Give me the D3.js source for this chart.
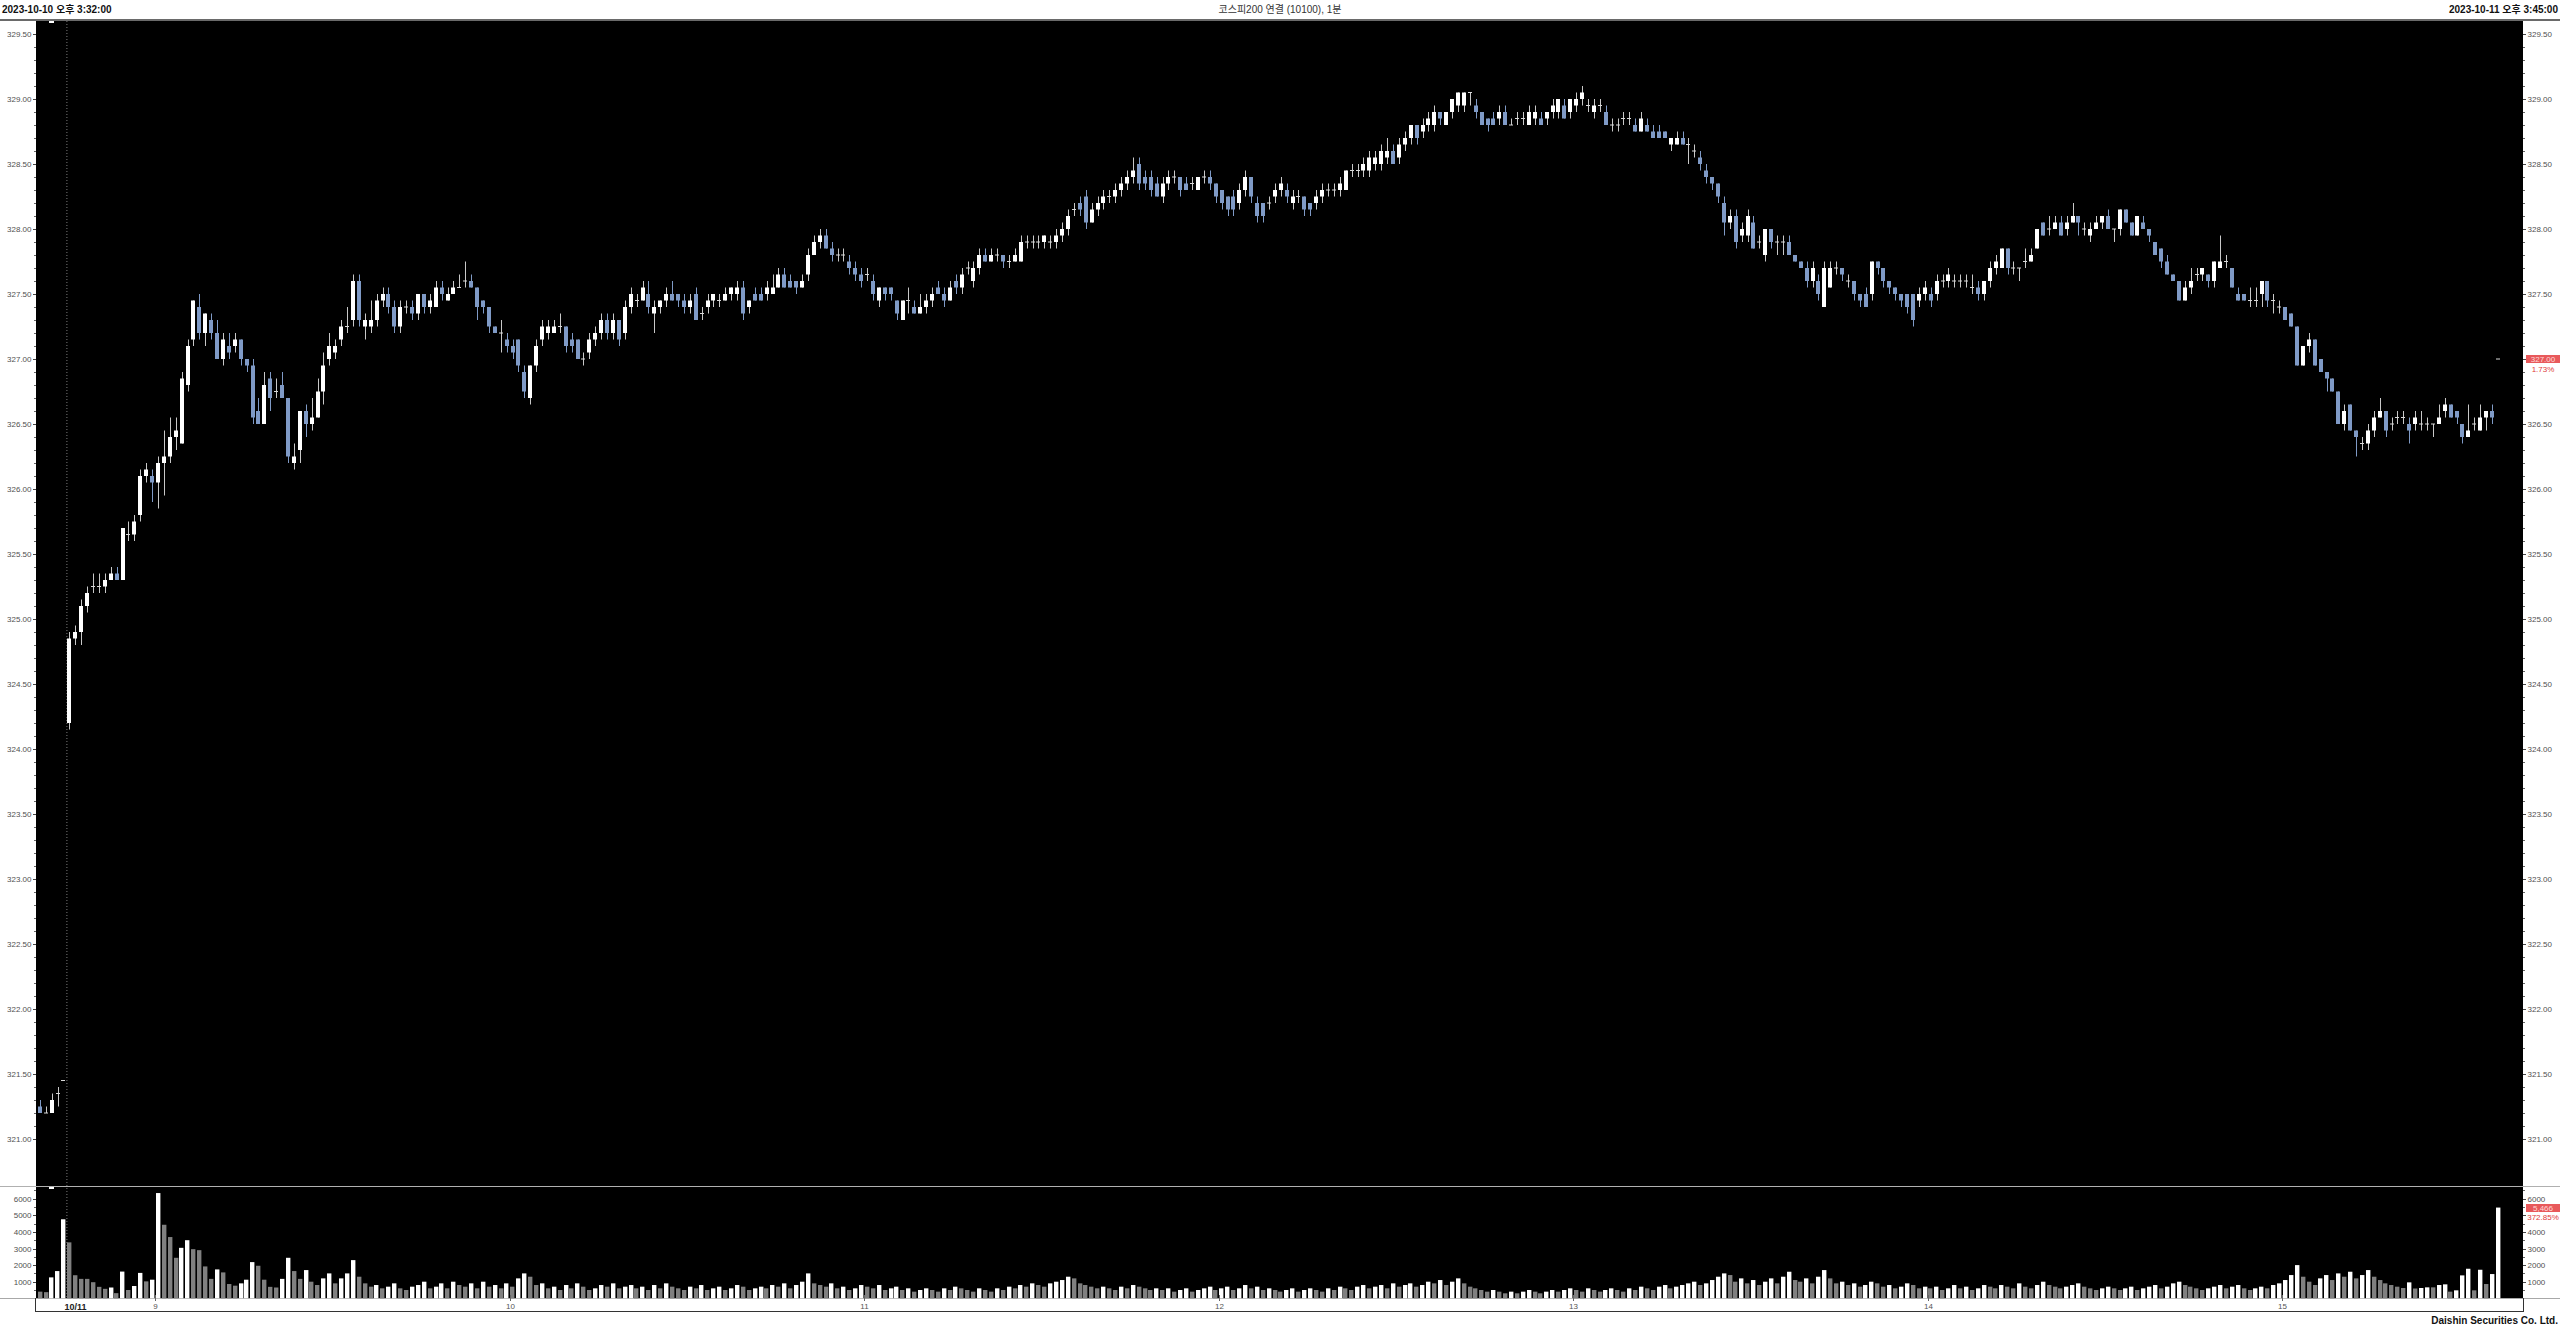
<!DOCTYPE html>
<html><head><meta charset="utf-8">
<script src="https://cdn.jsdelivr.net/npm/d3@7"></script>
<style>body{margin:0;background:#fff;}svg{display:block;}</style>
</head><body>
<svg id="c" width="2560" height="1328"></svg>
<script>
// ---------- DATA ----------
const day1Times = ["15:32","15:33","15:34","15:35","15:45"];
const hourTickIndex = [20, 80, 140, 200, 260, 320, 380];
const hourTickLabels = ["9","10","11","12","13","14","15"];
const dateBreakIndex = 5;
const dateBreakLabel = "10/11";
const priceTickLabels = ["321.00","321.50","322.00","322.50","323.00","323.50","324.00","324.50","325.00","325.50","326.00","326.50","327.00","327.50","328.00","328.50","329.00","329.50"];
const volumeTickLabels = ["1000","2000","3000","4000","5000","6000"];

const opens = [
321.25,321.20,321.20,321.35,321.45,324.20,324.85,324.90,325.10,325.25,
325.25,325.25,325.30,325.35,325.30,325.65,325.65,325.80,326.10,326.10,
326.05,326.20,326.25,326.40,326.35,326.80,327.15,327.40,327.20,327.30,
327.20,327.00,327.10,327.10,327.15,327.00,326.95,326.60,326.50,326.85,
326.75,326.80,326.70,326.20,326.30,326.60,326.50,326.55,326.75,327.00,
327.05,327.15,327.25,327.30,327.60,327.25,327.25,327.30,327.45,327.50,
327.40,327.25,327.40,327.40,327.35,327.50,327.40,327.40,327.55,327.45,
327.50,327.55,327.60,327.60,327.55,327.45,327.40,327.25,327.20,327.15,
327.10,327.15,326.90,326.70,326.95,327.15,327.20,327.20,327.25,327.25,
327.15,327.15,327.00,327.05,327.15,327.20,327.30,327.20,327.30,327.20,
327.40,327.45,327.45,327.50,327.35,327.40,327.45,327.50,327.50,327.45,
327.40,327.50,327.35,327.40,327.45,327.45,327.45,327.50,327.50,327.55,
327.40,327.50,327.50,327.50,327.50,327.55,327.65,327.60,327.60,327.55,
327.65,327.80,327.90,327.95,327.85,327.80,327.80,327.75,327.70,327.65,
327.65,327.60,327.45,327.55,327.55,327.45,327.30,327.45,327.40,327.35,
327.40,327.45,327.55,327.50,327.45,327.60,327.55,327.70,327.60,327.70,
327.80,327.75,327.80,327.80,327.75,327.75,327.75,327.90,327.90,327.90,
327.90,327.90,327.90,327.95,328.00,328.15,328.20,328.25,328.05,328.15,
328.20,328.25,328.25,328.30,328.35,328.40,328.50,328.40,328.40,328.35,
328.25,328.35,328.40,328.40,328.35,328.35,328.30,328.40,328.40,328.35,
328.30,328.25,328.25,328.20,328.30,328.40,328.20,328.20,328.20,328.25,
328.30,328.30,328.20,328.25,328.25,328.20,328.20,328.25,328.30,328.30,
328.30,328.30,328.45,328.45,328.45,328.45,328.50,328.50,328.55,328.60,
328.55,328.65,328.70,328.80,328.75,328.80,328.80,328.90,328.80,328.90,
328.95,328.95,329.05,328.95,328.90,328.85,328.85,328.85,328.90,328.80,
328.85,328.85,328.80,328.85,328.85,328.85,328.90,328.90,328.95,328.90,
328.95,329.00,328.95,328.90,328.95,328.90,328.80,328.80,328.85,328.85,
328.80,328.75,328.80,328.75,328.75,328.75,328.65,328.65,328.70,328.65,
328.60,328.55,328.45,328.40,328.35,328.20,328.05,328.10,327.95,327.95,
328.05,327.90,327.80,328.00,327.90,327.90,327.90,327.80,327.75,327.70,
327.60,327.60,327.40,327.55,327.70,327.70,327.60,327.60,327.50,327.50,
327.50,327.75,327.70,327.60,327.55,327.50,327.50,327.50,327.45,327.50,
327.50,327.50,327.60,327.60,327.60,327.60,327.60,327.55,327.55,327.50,
327.60,327.70,327.70,327.85,327.70,327.70,327.75,327.75,327.85,328.05,
328.00,328.00,328.05,328.00,328.05,328.10,328.00,327.95,328.00,328.05,
328.10,328.00,328.00,328.15,328.05,327.95,328.05,328.00,327.90,327.85,
327.75,327.65,327.60,327.45,327.55,327.65,327.65,327.65,327.60,327.70,
327.75,327.70,327.50,327.50,327.45,327.45,327.50,327.60,327.45,327.40,
327.40,327.35,327.25,326.95,327.10,327.15,327.00,326.90,326.85,326.75,
326.50,326.65,326.45,326.35,326.35,326.45,326.55,326.60,326.50,326.55,
326.55,326.50,326.50,326.50,326.50,326.50,326.50,326.60,326.65,326.60,
326.50,326.40,326.50,326.45,326.55,326.60,327.00];

const highs = [
321.30,321.25,321.35,321.40,321.45,324.90,324.95,325.15,325.25,325.35,
325.35,325.35,325.40,325.40,325.70,325.75,325.80,326.15,326.20,326.15,
326.25,326.45,326.55,326.55,326.90,327.15,327.45,327.50,327.35,327.35,
327.30,327.20,327.20,327.20,327.15,327.00,327.00,326.70,326.90,326.90,
326.85,326.90,326.70,326.35,326.60,326.65,326.70,326.85,327.05,327.20,
327.15,327.30,327.40,327.65,327.65,327.35,327.45,327.50,327.55,327.55,
327.45,327.45,327.45,327.45,327.50,327.50,327.50,327.60,327.60,327.55,
327.60,327.65,327.75,327.65,327.55,327.45,327.40,327.25,327.30,327.20,
327.15,327.15,326.95,326.95,327.15,327.30,327.30,327.30,327.35,327.25,
327.20,327.15,327.05,327.20,327.25,327.35,327.35,327.35,327.30,327.45,
327.55,327.50,327.60,327.60,327.45,327.45,327.55,327.60,327.50,327.50,
327.50,327.55,327.40,327.50,327.50,327.50,327.55,327.55,327.60,327.60,
327.45,327.55,327.55,327.60,327.65,327.70,327.70,327.65,327.60,327.65,
327.85,327.95,328.00,328.00,327.90,327.85,327.85,327.80,327.75,327.70,
327.70,327.65,327.55,327.55,327.55,327.45,327.45,327.55,327.45,327.50,
327.50,327.55,327.60,327.55,327.60,327.65,327.70,327.75,327.75,327.85,
327.85,327.85,327.85,327.80,327.80,327.85,327.95,327.95,327.95,327.95,
327.95,327.95,328.00,328.05,328.15,328.20,328.25,328.30,328.20,328.25,
328.30,328.30,328.35,328.40,328.45,328.55,328.55,328.45,328.45,328.40,
328.40,328.45,328.45,328.40,328.40,328.40,328.40,328.45,328.45,328.35,
328.30,328.25,328.30,328.35,328.45,328.40,328.25,328.20,328.25,328.35,
328.40,328.35,328.30,328.30,328.25,328.20,328.30,328.35,328.35,328.35,
328.40,328.45,328.50,328.50,328.55,328.60,328.60,328.65,328.70,328.65,
328.70,328.75,328.80,328.80,328.85,328.90,328.95,328.90,328.90,329.00,
329.05,329.05,329.05,329.00,328.90,328.85,328.90,328.95,328.95,328.85,
328.90,328.90,328.95,328.95,328.90,328.90,329.00,329.00,329.00,329.00,
329.05,329.10,329.00,329.00,329.00,328.95,328.85,328.85,328.90,328.90,
328.85,328.90,328.85,328.80,328.80,328.75,328.70,328.75,328.75,328.70,
328.65,328.60,328.50,328.40,328.35,328.25,328.15,328.15,328.05,328.15,
328.10,327.95,328.00,328.00,327.95,327.95,327.95,327.80,327.75,327.75,
327.75,327.65,327.75,327.75,327.75,327.70,327.65,327.60,327.50,327.55,
327.75,327.75,327.70,327.60,327.55,327.50,327.50,327.50,327.55,327.60,
327.55,327.65,327.65,327.70,327.65,327.65,327.65,327.65,327.60,327.60,
327.75,327.80,327.85,327.85,327.75,327.70,327.85,327.85,328.00,328.05,
328.10,328.10,328.10,328.10,328.20,328.10,328.05,328.05,328.10,328.10,
328.15,328.00,328.15,328.15,328.05,328.10,328.10,328.00,327.90,327.85,
327.80,327.65,327.60,327.60,327.70,327.70,327.70,327.65,327.75,327.95,
327.80,327.70,327.55,327.50,327.55,327.55,327.60,327.60,327.50,327.45,
327.40,327.35,327.25,327.10,327.20,327.15,327.00,326.90,326.85,326.75,
326.65,326.65,326.45,326.40,326.50,326.60,326.70,326.60,326.55,326.60,
326.60,326.55,326.60,326.60,326.55,326.50,326.65,326.70,326.65,326.60,
326.50,326.65,326.55,326.65,326.60,326.65,327.00];

const lows = [
321.20,321.20,321.20,321.25,321.45,324.15,324.80,324.80,325.05,325.20,
325.20,325.20,325.30,325.30,325.30,325.60,325.60,325.75,326.05,325.90,
325.85,325.95,326.20,326.30,326.35,326.75,327.10,327.15,327.10,327.15,
327.00,326.95,327.00,327.05,326.95,326.90,326.50,326.50,326.50,326.60,
326.70,326.70,326.20,326.15,326.20,326.40,326.45,326.55,326.65,326.95,
327.00,327.10,327.20,327.25,327.25,327.15,327.20,327.25,327.40,327.35,
327.20,327.20,327.35,327.30,327.30,327.35,327.35,327.40,327.45,327.45,
327.50,327.55,327.55,327.55,327.30,327.35,327.20,327.20,327.05,327.05,
327.00,326.90,326.70,326.65,326.90,327.10,327.15,327.20,327.20,327.05,
327.05,327.00,326.95,327.00,327.10,327.15,327.15,327.15,327.10,327.15,
327.35,327.40,327.45,327.35,327.20,327.35,327.40,327.45,327.40,327.35,
327.35,327.30,327.30,327.35,327.40,327.40,327.45,327.45,327.45,327.30,
327.35,327.45,327.45,327.45,327.50,327.55,327.55,327.55,327.50,327.55,
327.60,327.80,327.85,327.85,327.75,327.75,327.75,327.65,327.60,327.55,
327.60,327.45,327.40,327.45,327.45,327.30,327.30,327.35,327.35,327.35,
327.35,327.40,327.50,327.40,327.45,327.50,327.50,327.65,327.55,327.65,
327.75,327.75,327.75,327.70,327.70,327.75,327.75,327.85,327.85,327.85,
327.85,327.85,327.85,327.90,327.95,328.10,328.10,328.00,328.05,328.10,
328.15,328.20,328.20,328.25,328.30,328.35,328.30,328.30,328.25,328.25,
328.20,328.30,328.35,328.25,328.30,328.30,328.30,328.35,328.30,328.20,
328.15,328.10,328.10,328.15,328.25,328.20,328.05,328.05,328.15,328.20,
328.25,328.20,328.15,328.20,328.10,328.10,328.15,328.20,328.25,328.25,
328.25,328.30,328.40,328.40,328.40,328.40,328.45,328.45,328.50,328.50,
328.50,328.60,328.65,328.65,328.70,328.75,328.75,328.80,328.80,328.85,
328.90,328.90,328.95,328.85,328.80,328.75,328.80,328.80,328.80,328.80,
328.80,328.80,328.80,328.80,328.80,328.80,328.85,328.85,328.85,328.85,
328.90,328.95,328.90,328.85,328.90,328.80,328.75,328.75,328.80,328.80,
328.75,328.75,328.75,328.70,328.70,328.70,328.60,328.65,328.65,328.50,
328.55,328.45,328.35,328.30,328.20,327.95,328.00,327.85,327.90,327.90,
327.85,327.85,327.75,327.85,327.80,327.80,327.80,327.75,327.70,327.55,
327.55,327.45,327.40,327.55,327.65,327.60,327.55,327.45,327.40,327.40,
327.45,327.65,327.55,327.50,327.45,327.40,327.35,327.25,327.40,327.45,
327.40,327.45,327.55,327.55,327.55,327.55,327.55,327.50,327.45,327.45,
327.55,327.65,327.70,327.65,327.65,327.60,327.70,327.75,327.85,327.95,
327.95,328.00,327.95,327.95,328.05,327.95,327.95,327.90,328.00,328.00,
328.00,327.90,327.95,328.05,327.95,327.95,328.00,327.90,327.80,327.70,
327.65,327.60,327.45,327.45,327.50,327.60,327.60,327.55,327.55,327.70,
327.70,327.55,327.45,327.45,327.40,327.40,327.40,327.40,327.35,327.35,
327.30,327.25,326.95,326.95,327.05,326.95,326.90,326.75,326.75,326.50,
326.45,326.45,326.25,326.30,326.30,326.40,326.55,326.40,326.45,326.50,
326.50,326.35,326.45,326.45,326.45,326.40,326.50,326.55,326.55,326.50,
326.35,326.40,326.45,326.45,326.45,326.50,327.00];

const closes = [
321.20,321.20,321.30,321.35,321.45,324.85,324.90,325.10,325.20,325.25,
325.25,325.30,325.35,325.30,325.70,325.65,325.75,326.10,326.15,326.05,
326.20,326.25,326.40,326.45,326.85,327.10,327.45,327.20,327.35,327.20,
327.00,327.15,327.05,327.15,327.00,326.95,326.55,326.50,326.80,326.70,
326.75,326.70,326.25,326.25,326.60,326.50,326.55,326.75,326.95,327.10,
327.10,327.25,327.25,327.60,327.30,327.30,327.30,327.45,327.50,327.40,
327.25,327.40,327.40,327.35,327.50,327.40,327.45,327.55,327.50,327.50,
327.55,327.55,327.60,327.55,327.40,327.40,327.25,327.20,327.20,327.10,
327.05,326.95,326.75,326.95,327.10,327.25,327.25,327.25,327.25,327.10,
327.10,327.00,327.00,327.15,327.20,327.30,327.20,327.30,327.15,327.40,
327.50,327.45,327.55,327.40,327.40,327.45,327.50,327.45,327.45,327.40,
327.45,327.30,327.35,327.45,327.50,327.45,327.50,327.55,327.55,327.35,
327.45,327.45,327.45,327.55,327.55,327.65,327.55,327.55,327.55,327.60,
327.80,327.90,327.95,327.85,327.80,327.80,327.80,327.70,327.65,327.60,
327.65,327.50,327.55,327.50,327.50,327.35,327.45,327.45,327.35,327.40,
327.45,327.50,327.50,327.45,327.55,327.55,327.65,327.70,327.70,327.80,
327.75,327.80,327.80,327.75,327.75,327.80,327.90,327.90,327.90,327.90,
327.95,327.90,327.95,328.00,328.10,328.15,328.15,328.05,328.15,328.20,
328.25,328.25,328.30,328.35,328.40,328.45,328.35,328.35,328.30,328.25,
328.35,328.40,328.40,328.30,328.30,328.35,328.40,328.40,328.35,328.25,
328.20,328.15,328.15,328.30,328.40,328.25,328.10,328.10,328.20,328.30,
328.35,328.25,328.25,328.25,328.15,328.15,328.25,328.30,328.30,328.30,
328.35,328.45,328.45,328.45,328.50,328.55,328.55,328.60,328.60,328.50,
328.65,328.70,328.80,328.70,328.80,328.85,328.90,328.85,328.90,329.00,
329.05,329.05,329.05,328.90,328.80,328.80,328.80,328.90,328.80,328.80,
328.85,328.85,328.90,328.90,328.80,328.90,328.95,329.00,328.85,329.00,
329.00,329.05,328.95,328.95,328.95,328.80,328.80,328.80,328.85,328.85,
328.75,328.85,328.75,328.70,328.70,328.70,328.70,328.70,328.65,328.65,
328.60,328.50,328.40,328.35,328.25,328.05,328.10,327.90,328.00,328.10,
327.85,327.90,328.00,327.90,327.90,327.90,327.80,327.75,327.70,327.60,
327.70,327.50,327.70,327.70,327.70,327.65,327.60,327.50,327.45,327.40,
327.75,327.70,327.60,327.55,327.50,327.45,327.40,327.30,327.50,327.55,
327.45,327.60,327.60,327.65,327.60,327.60,327.60,327.55,327.50,327.60,
327.70,327.75,327.85,327.70,327.70,327.70,327.75,327.80,328.00,327.95,
328.00,328.05,327.95,328.05,328.10,328.05,328.00,328.00,328.05,328.10,
328.00,328.00,328.15,328.05,327.95,328.10,328.00,327.95,327.80,327.75,
327.65,327.60,327.45,327.55,327.60,327.65,327.70,327.60,327.75,327.75,
327.75,327.55,327.45,327.45,327.45,327.45,327.60,327.45,327.45,327.40,
327.30,327.25,326.95,327.10,327.15,326.95,326.90,326.85,326.75,326.50,
326.60,326.45,326.40,326.35,326.45,326.55,326.60,326.45,326.50,326.55,
326.55,326.45,326.55,326.50,326.50,326.50,326.55,326.65,326.55,326.55,
326.40,326.45,326.50,326.55,326.60,326.55,327.00];

const volumes = [
400,370,1260,1640,4760,3370,1390,1170,1170,970,
690,570,650,310,1610,500,740,1530,1020,1120,
6340,4430,3690,2440,3040,3500,2960,2900,1920,1170,
1740,1560,860,760,900,1120,2180,1960,1120,690,
650,1170,2440,1640,1170,1700,1000,800,1200,1500,
900,1200,1500,2300,1300,900,700,800,600,700,
900,600,500,700,800,1000,600,700,900,600,
1000,800,700,900,600,1000,700,800,600,900,
700,1200,1500,1300,800,900,600,700,500,800,
600,900,700,500,600,800,700,900,600,700,
800,600,700,500,800,600,900,700,600,500,
700,600,800,500,600,700,500,600,800,700,
500,600,700,600,800,700,900,600,800,1000,
1500,900,800,700,900,600,700,500,600,800,
700,600,800,500,600,700,500,600,400,500,
600,500,400,600,500,700,600,500,400,600,
500,400,600,500,700,600,800,700,900,800,
700,900,1000,1100,1300,1200,900,800,700,600,
700,600,500,700,600,800,700,600,500,600,
500,600,400,500,600,400,500,600,700,500,
600,700,500,600,800,600,700,500,600,500,
400,500,600,400,500,600,500,400,600,500,
700,600,500,700,800,600,700,800,600,900,
700,800,900,700,800,1000,900,1100,800,1000,
1200,900,700,600,500,400,500,400,300,400,
300,400,500,400,300,400,500,400,500,600,
500,400,600,500,400,500,600,500,400,600,
500,700,600,500,700,800,600,700,800,900,
1000,800,900,1100,1300,1500,1400,1000,1200,900,
1100,800,1000,1200,900,1300,1600,1100,1000,1200,
900,1300,1700,1200,900,1000,800,900,700,800,
1000,900,700,800,600,700,900,800,600,700,
600,700,500,600,800,600,700,500,600,800,
700,600,800,700,600,900,700,600,800,1000,
800,700,600,700,800,900,700,600,500,600,
700,600,500,600,700,500,600,700,800,600,
700,900,1000,800,700,600,500,600,700,800,
600,700,800,600,500,600,700,600,800,900,
1100,1400,2000,1300,1000,800,1200,1400,1100,1500,
1300,1600,1200,1400,1700,1300,1100,900,800,700,
620,960,590,620,660,660,800,840,400,480,
1380,1780,480,1720,860,1460,5466];

// category labels (minute of each bar)
const times = day1Times.slice();
for (let m = 8*60+45; m <= 15*60+35; m++) times.push(String(Math.floor(m/60)).padStart(2,"0")+":"+String(m%60).padStart(2,"0"));
times.push("15:45");

// ---------- LAYOUT ----------
const W = 2560, H = 1328;
const plotL = 36, plotR = 2523;
const priceTop = 21, priceBot = 1186;
const volTop = 1187, volBot = 1298;
const UP = "#ffffff", DOWN = "#7f9ac6", WICK_UP = "#c8c8c8";
const AXIS_TXT = "#505050";
const FONT = "'Liberation Sans', Arial, 'Noto Sans CJK KR', sans-serif";

const svg = d3.select("#c");
svg.append("rect").attr("width", W).attr("height", H).attr("fill", "#fff");
svg.append("rect").attr("x", plotL).attr("y", priceTop).attr("width", plotR - plotL).attr("height", priceBot - priceTop).attr("fill", "#000");
svg.append("rect").attr("x", plotL).attr("y", volTop).attr("width", plotR - plotL).attr("height", volBot - volTop).attr("fill", "#000");

const idx = d3.range(times.length);
const x = d3.scaleBand().domain(idx).range([36.85, 36.85 + 5.909 * times.length]);
const y = d3.scaleLinear().domain([321, 329.5]).range([1139, 34]);
const yv = d3.scaleLinear().domain([0, 6000]).range([1298.3, 1198.7]);
const bw = 4;
const cx = i => x(i) + x.bandwidth() / 2;

const lastClose = closes[closes.length - 1];
const lastVol = volumes[volumes.length - 1];

// frame lines
svg.append("line").attr("x1", 0).attr("x2", W).attr("y1", 20).attr("y2", 20).attr("stroke", "#6a6a6a").attr("stroke-width", 2);
svg.append("line").attr("x1", 0).attr("x2", W).attr("y1", 1186.5).attr("y2", 1186.5).attr("stroke", "#b0b0b0").attr("stroke-width", 1);
svg.append("line").attr("x1", 0).attr("x2", W).attr("y1", 1298.5).attr("y2", 1298.5).attr("stroke", "#a8a8a8").attr("stroke-width", 1);
svg.append("line").attr("x1", plotL).attr("x2", plotR).attr("y1", 1311.5).attr("y2", 1311.5).attr("stroke", "#333").attr("stroke-width", 1);
[plotL - 0.5, plotR + 0.5].forEach(xx => svg.append("line").attr("x1", xx).attr("x2", xx).attr("y1", 1298).attr("y2", 1312).attr("stroke", "#333"));

// date break dotted line
svg.append("line").attr("x1", x(dateBreakIndex) + 0.5).attr("x2", x(dateBreakIndex) + 0.5)
  .attr("y1", priceTop).attr("y2", volBot).attr("stroke", "#7a7a7a").attr("stroke-dasharray", "1,2");

// small white scroll markers
svg.append("rect").attr("x", 49).attr("y", 21).attr("width", 5).attr("height", 2).attr("fill", "#fff");
svg.append("rect").attr("x", 49).attr("y", 1187).attr("width", 5).attr("height", 2).attr("fill", "#fff");

// ---------- CANDLES ----------
const g = svg.append("g");
idx.forEach(i => {
  const o = opens[i], c = closes[i], h = highs[i], l = lows[i];
  const up = c > o, down = c < o;
  const col = down ? DOWN : (up ? UP : "#d8d8d8");
  const wcol = down ? DOWN : WICK_UP;
  const xc = Math.round(cx(i)) + 0.5;
  g.append("line").attr("x1", xc).attr("x2", xc).attr("y1", y(h)).attr("y2", y(l)).attr("stroke", wcol).attr("stroke-width", 1);
  if (up || down) {
    const top = y(Math.max(o, c)), bot = y(Math.min(o, c));
    g.append("rect").attr("x", Math.round(cx(i) - bw / 2)).attr("y", top).attr("width", bw).attr("height", Math.max(1, bot - top)).attr("fill", col);
  } else {
    g.append("line").attr("x1", Math.round(cx(i) - bw / 2)).attr("x2", Math.round(cx(i) + bw / 2)).attr("y1", y(o)).attr("y2", y(o)).attr("stroke", col).attr("stroke-width", 1);
  }
});

// ---------- VOLUME ----------
const gv = svg.append("g");
idx.forEach(i => {
  const v = volumes[i];
  const rising = i > 0 && v > volumes[i - 1];
  gv.append("rect").attr("x", Math.round(cx(i) - 2.2)).attr("y", yv(v)).attr("width", 4.4).attr("height", yv(0) - yv(v))
    .attr("fill", rising ? "#ffffff" : "#808080");
});

// ---------- AXES ----------
// right-side labels hidden under the last-value markers
const markerPriceY = y(lastClose), markerVolY = 1212;
function priceAxis(side) {
  const vals = priceTickLabels.map(Number);
  const minor = d3.range(321, 329.55, 0.1).filter(v => y(v) > priceTop + 2 && y(v) < priceBot - 2);
  const gA = svg.append("g").attr("font-family", FONT).attr("font-size", 8).attr("fill", AXIS_TXT);
  const x0 = side === "left" ? plotL : plotR;
  const dir = side === "left" ? -1 : 1;
  minor.forEach(v => gA.append("line").attr("x1", x0).attr("x2", x0 + dir * 2).attr("y1", Math.round(y(v)) + 0.5).attr("y2", Math.round(y(v)) + 0.5).attr("stroke", "#666"));
  vals.forEach((v, k) => {
    gA.append("line").attr("x1", x0).attr("x2", x0 + dir * 3).attr("y1", Math.round(y(v)) + 0.5).attr("y2", Math.round(y(v)) + 0.5).attr("stroke", "#444");
    if (side === "right" && Math.abs(y(v) - markerPriceY) < 12) return;
    gA.append("text").attr("x", x0 + dir * 4.5).attr("y", y(v) + 3).attr("text-anchor", side === "left" ? "end" : "start").text(priceTickLabels[k]);
  });
}
priceAxis("left"); priceAxis("right");

function volAxis(side) {
  const gA = svg.append("g").attr("font-family", FONT).attr("font-size", 8).attr("fill", AXIS_TXT);
  const x0 = side === "left" ? plotL : plotR;
  const dir = side === "left" ? -1 : 1;
  d3.range(500, 7000, 1000).forEach(v => { if (yv(v) > volTop + 1) gA.append("line").attr("x1", x0).attr("x2", x0 + dir * 2).attr("y1", Math.round(yv(v)) + 0.5).attr("y2", Math.round(yv(v)) + 0.5).attr("stroke", "#666"); });
  volumeTickLabels.forEach(t => {
    const v = +t;
    gA.append("line").attr("x1", x0).attr("x2", x0 + dir * 3).attr("y1", Math.round(yv(v)) + 0.5).attr("y2", Math.round(yv(v)) + 0.5).attr("stroke", "#444");
    if (side === "right" && Math.abs(yv(v) - markerVolY) < 8) return;
    gA.append("text").attr("x", x0 + dir * 4.5).attr("y", yv(v) + 3).attr("text-anchor", side === "left" ? "end" : "start").text(t);
  });
}
volAxis("left"); volAxis("right");

// x axis labels
const gx = svg.append("g").attr("font-family", FONT);
hourTickIndex.forEach((i, k) => {
  const xx = Math.round(x(i)) + 0.5;
  gx.append("line").attr("x1", xx).attr("x2", xx).attr("y1", 1295).attr("y2", 1301).attr("stroke", "#666");
  gx.append("text").attr("x", xx).attr("y", 1309).attr("text-anchor", "middle").attr("font-size", 8).attr("fill", "#555").text(hourTickLabels[k]);
});
gx.append("text").attr("x", x(dateBreakIndex) - 2).attr("y", 1309.5).attr("font-size", 9).attr("font-weight", "bold").attr("fill", "#222").text(dateBreakLabel);

// last value markers
const gm = svg.append("g").attr("font-family", FONT).attr("font-size", 8);
gm.append("rect").attr("x", 2526).attr("y", y(lastClose) - 4).attr("width", 34).attr("height", 8).attr("fill", "#e8595b");
gm.append("text").attr("x", 2543).attr("y", y(lastClose) + 3).attr("text-anchor", "middle").attr("fill", "#ffd9d9").text(lastClose.toFixed(2));
gm.append("text").attr("x", 2543).attr("y", y(lastClose) + 13).attr("text-anchor", "middle").attr("fill", "#e03a3a").text("1.73%");
gm.append("rect").attr("x", 2526).attr("y", 1204).attr("width", 34).attr("height", 8).attr("fill", "#e8595b");
gm.append("text").attr("x", 2543).attr("y", 1211).attr("text-anchor", "middle").attr("fill", "#ffd9d9").text(d3.format(",")(lastVol));
gm.append("text").attr("x", 2543).attr("y", 1220).attr("text-anchor", "middle").attr("fill", "#e03a3a").text("372.85%");

// header / footer
const gh = svg.append("g").attr("font-family", "'Liberation Sans', 'Noto Sans CJK KR', sans-serif").attr("font-size", 10).attr("fill", "#111");
gh.append("text").attr("x", 2).attr("y", 13).attr("font-weight", "bold").text("2023-10-10 오후 3:32:00");
gh.append("text").attr("x", 2558).attr("y", 13).attr("text-anchor", "end").attr("font-weight", "bold").text("2023-10-11 오후 3:45:00");
gh.append("text").attr("x", 1280).attr("y", 13).attr("text-anchor", "middle").attr("fill", "#333").text("코스피200 연결 (10100), 1분");
gh.append("text").attr("x", 2558).attr("y", 1324).attr("text-anchor", "end").attr("font-weight", "bold").text("Daishin Securities Co. Ltd.");
</script>
</body></html>
